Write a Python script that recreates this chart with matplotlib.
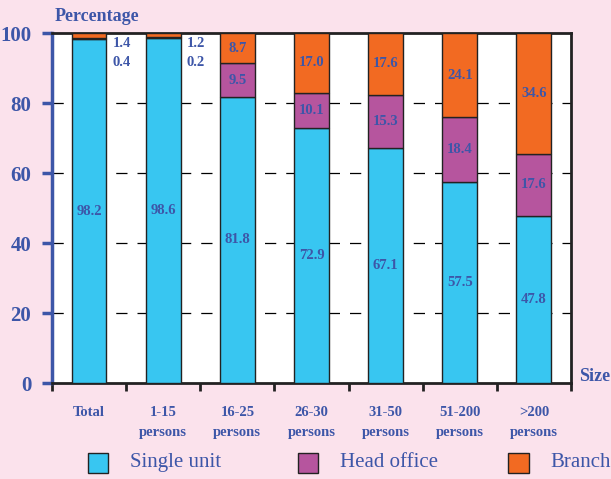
import matplotlib.pyplot as plt
import numpy as np
from matplotlib.patches import Rectangle

categories = ["Total", "1-15\npersons", "16-25\npersons", "26-30\npersons",
              "31-50\npersons", "51-200\npersons", ">200\npersons"]
single_unit = [98.2, 98.6, 81.8, 72.9, 67.1, 57.5, 47.8]
head_office = [0.4, 0.2, 9.5, 10.1, 15.3, 18.4, 17.6]
branch = [1.4, 1.2, 8.7, 17.0, 17.6, 24.1, 34.6]
series_names = ["Single unit", "Head office", "Branch"]

bg = "#fbe2ec"
blue_txt = "#3d56a8"
colors = ["#38c6f1", "#b6559e", "#f26a22"]
font = "Liberation Serif"

fig = plt.figure(figsize=(6.11, 4.79), dpi=100, facecolor=bg)
ax = fig.add_axes([0.0851, 0.2004, 0.8494, 0.7307])
ax.set_facecolor("white")

x = np.arange(len(categories))
w = 0.47
s = np.array(single_unit)
h = np.array(head_office)
b = np.array(branch)

ax.bar(x, s, w, color=colors[0], edgecolor="#222222", linewidth=1, zorder=3)
ax.bar(x, h, w, bottom=s, color=colors[1], edgecolor="#222222", linewidth=1, zorder=3)
ax.bar(x, b, w, bottom=s + h, color=colors[2], edgecolor="#222222", linewidth=1, zorder=3)

lab = dict(color=blue_txt, fontweight="bold", family=font, fontsize=10.5,
           ha="center", va="center", zorder=4)
for i in range(len(categories)):
    ax.text(x[i], s[i] / 2, "%.1f" % s[i], **lab)
    if h[i] < 3:
        # small segments are labelled beside the bar
        ax.text(x[i] + w / 2 + 0.08, 100 - 3, "%.1f" % b[i],
                **{**lab, "ha": "left"})
        ax.text(x[i] + w / 2 + 0.08, 100 - 8.5, "%.1f" % h[i],
                **{**lab, "ha": "left"})
    else:
        ax.text(x[i], s[i] + h[i] / 2, "%.1f" % h[i], **lab)
        ax.text(x[i], s[i] + h[i] + b[i] / 2, "%.1f" % b[i], **lab)

ax.set_xlim(-0.5, len(categories) - 0.5)
ax.set_ylim(0, 100)
ax.set_yticks([0, 20, 40, 60, 80, 100])
for yv in [20, 40, 60, 80]:
    ax.axhline(yv, color="black", linestyle=(0, (9, 8)), linewidth=0.9, zorder=1)

ax.tick_params(axis="y", colors=blue_txt, length=7, width=2.5, direction="out", pad=8)
for t in ax.get_yticklabels():
    t.set_fontfamily(font)
    t.set_fontweight("bold")
    t.set_fontsize(15)
    t.set_color(blue_txt)

ax.set_xticks(np.arange(len(categories) + 1) - 0.5)
ax.set_xticklabels([])
ax.tick_params(axis="x", colors="#222222", length=6, width=2, direction="out")
for i, c in enumerate(categories):
    ax.text(x[i], -6.5, c, transform=ax.transData, ha="center", va="top",
            color=blue_txt, fontweight="bold", family=font, fontsize=10.5,
            linespacing=1.75)

ax.spines["left"].set_color(blue_txt)
ax.spines["left"].set_linewidth(2.5)
for sp in ["bottom", "top", "right"]:
    ax.spines[sp].set_color("#222222")
    ax.spines[sp].set_linewidth(2)

fig.text(0.09, 0.965, "Percentage", ha="left", va="center", color=blue_txt,
         fontweight="bold", family=font, fontsize=13)
fig.text(0.948, 0.215, "Size", ha="left", va="center", color=blue_txt,
         fontweight="bold", family=font, fontsize=13)

# legend along the bottom
leg_x = [0.144, 0.488, 0.832]
for i, name in enumerate(series_names):
    fig.patches.append(Rectangle((leg_x[i], 0.013), 0.033, 0.042,
                                 transform=fig.transFigure, facecolor=colors[i],
                                 edgecolor="#222222", linewidth=1))
    fig.text(leg_x[i] + 0.068, 0.034, name, ha="left", va="center",
             color=blue_txt, family=font, fontsize=15)

fig.savefig("out.png", dpi=100, facecolor=bg)
